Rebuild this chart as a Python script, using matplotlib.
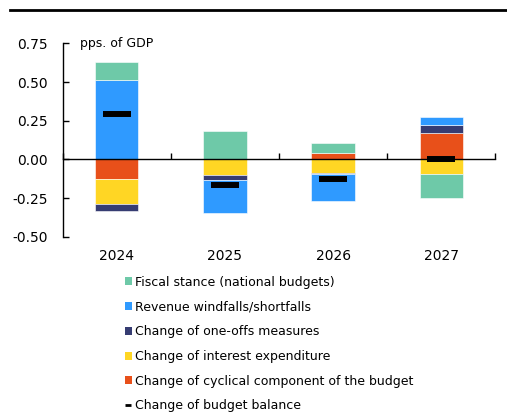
import matplotlib
matplotlib.use("Agg")
import matplotlib.pyplot as plt
import matplotlib.transforms as mtransforms
from matplotlib.patches import Patch
from matplotlib.lines import Line2D
import numpy as np

plt.rcParams['font.family'] = ['DejaVu Sans']

years = ["2024", "2025", "2026", "2027"]
cyclical = [-0.125, 0.0, 0.043, 0.168]
interest = [-0.164, -0.101, -0.087, -0.097]
one_offs = [-0.045, -0.032, -0.008, 0.056]
revenue = [0.515, -0.212, -0.175, 0.051]
fiscal = [0.115, 0.183, 0.062, -0.153]
balance = [0.295, -0.164, -0.125, 0.005]

series = [
    ("Change of cyclical component of the budget", cyclical, "#E8501A"),
    ("Change of interest expenditure", interest, "#FFD624"),
    ("Change of one-offs measures", one_offs, "#363C72"),
    ("Revenue windfalls/shortfalls", revenue, "#2F9AFF"),
    ("Fiscal stance (national budgets)", fiscal, "#6EC9A8"),
]

fig = plt.figure(figsize=(5.07, 4.19), dpi=100)
ax = fig.add_axes([0.1237, 0.435, 0.8533, 0.4616])

x = np.arange(len(years))
pos_base = np.zeros(len(years))
neg_base = np.zeros(len(years))
for label, vals, color in series:
    v = np.array(vals, dtype=float)
    base = np.where(v >= 0, pos_base, neg_base)
    ax.bar(x, v, width=0.4, bottom=base, color=color, edgecolor="white", linewidth=0.4)
    pos_base = pos_base + np.where(v >= 0, v, 0)
    neg_base = neg_base + np.where(v < 0, v, 0)

ax.plot(x, balance, linestyle="none", marker="_", markersize=20, markeredgewidth=4.3, color="black", zorder=5)

ax.set_xlim(-0.5, 3.5)
ax.set_ylim(-0.5, 0.75)
ax.set_yticks([-0.5, -0.25, 0.0, 0.25, 0.5, 0.75])
ax.set_yticklabels(["-0.50", "-0.25", "0.00", "0.25", "0.50", "0.75"])
ax.tick_params(axis="y", direction="in", length=4, width=1, labelsize=10, pad=11, colors="black")
ax.spines["top"].set_visible(False)
ax.spines["right"].set_visible(False)
ax.spines["left"].set_linewidth(1)
ax.spines["bottom"].set_position(("data", 0))
ax.spines["bottom"].set_linewidth(1)
ax.set_xticks(np.arange(-0.5, 4.0, 1.0))
ax.set_xticklabels([])
ax.tick_params(axis="x", direction="in", length=4, width=1)

trans = mtransforms.blended_transform_factory(ax.transData, ax.transAxes)
for xi, yr in zip(x, years):
    ax.text(xi, -0.1, yr, transform=trans, ha="center", va="center", fontsize=10)

ax.text(0.04, 1.0, "pps. of GDP", transform=ax.transAxes, ha="left", va="center", fontsize=9)

handles = [Patch(facecolor=c, edgecolor="none", label=l) for l, _, c in series[::-1]]
handles.append(Line2D([0], [0], color="black", linestyle="none", marker="_", markersize=5,
                      markeredgewidth=2, label="Change of budget balance"))
leg = fig.legend(handles=handles, loc="upper left", bbox_to_anchor=(0.246, 0.342), frameon=False,
                 fontsize=9, handlelength=0.55, handleheight=0.6, handletextpad=0.3, labelspacing=0.94,
                 borderaxespad=0, borderpad=0)

fig.add_artist(Line2D([10 / 507, 1.0], [1 - 10.5 / 419, 1 - 10.5 / 419], color="black", linewidth=2, transform=fig.transFigure))

fig.savefig("out.png", dpi=100)
